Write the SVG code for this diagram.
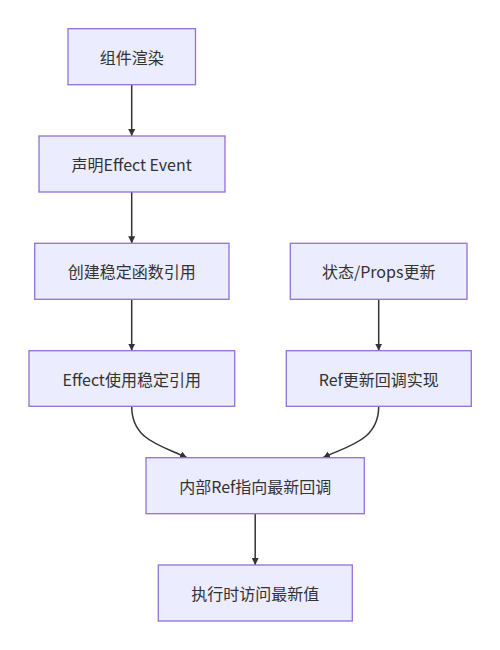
<svg xmlns="http://www.w3.org/2000/svg" width="500" height="650" viewBox="0 0 500 650">
<style>
.node rect{fill:#ECECFF;stroke:#9370DB;stroke-width:1.3}
.node text{font-family:"Noto Sans CJK SC","Liberation Sans",sans-serif;font-size:16px;fill:#333;text-anchor:middle;dominant-baseline:central}
.edge{fill:none;stroke:#333;stroke-width:1.5;marker-end:url(#arr)}
</style>
<defs>
<marker id="arr" viewBox="0 0 10 10" refX="10" refY="5" markerWidth="7" markerHeight="7" markerUnits="userSpaceOnUse" orient="auto">
<path d="M0,0 L10,5 L0,10 z" fill="#333"/>
</marker>
</defs>
<rect width="500" height="650" fill="#fff"/>
<g id="connectors">
<path class="edge" d="M131.7,84.7 L131.7,136"/>
<path class="edge" d="M131.7,192 L131.7,243.3"/>
<path class="edge" d="M131.7,299.3 L131.7,350.7"/>
<path class="edge" d="M378.7,299.3 L378.7,350.7"/>
<path class="edge" d="M131.7,406.3 C131.7,440 160,445 187,457.7"/>
<path class="edge" d="M378.7,406.3 C378.7,440 350,445 323,457.7"/>
<path class="edge" d="M255.2,513.7 L255.2,565"/>
</g>
<g id="n1" class="node"><rect x="68" y="28.7" width="127.5" height="56"/><text x="131.7" y="56.7">组件渲染</text></g>
<g id="n2" class="node"><rect x="39" y="136" width="186" height="56"/><text x="131.7" y="164">声明Effect Event</text></g>
<g id="n3" class="node"><rect x="34.7" y="243.3" width="194.3" height="56"/><text x="131.7" y="271.3">创建稳定函数引用</text></g>
<g id="n4" class="node"><rect x="290.3" y="243.3" width="176.7" height="56"/><text x="378.7" y="271.3">状态/Props更新</text></g>
<g id="n5" class="node"><rect x="29" y="350.7" width="205.7" height="55.6"/><text x="131.7" y="378.5">Effect使用稳定引用</text></g>
<g id="n6" class="node"><rect x="286.3" y="350.7" width="185" height="55.6"/><text x="378.7" y="378.5">Ref更新回调实现</text></g>
<g id="n7" class="node"><rect x="146" y="457.7" width="218.3" height="56"/><text x="255.2" y="485.7">内部Ref指向最新回调</text></g>
<g id="n8" class="node"><rect x="158.3" y="565" width="194" height="56"/><text x="255.2" y="593">执行时访问最新值</text></g>
</svg>
